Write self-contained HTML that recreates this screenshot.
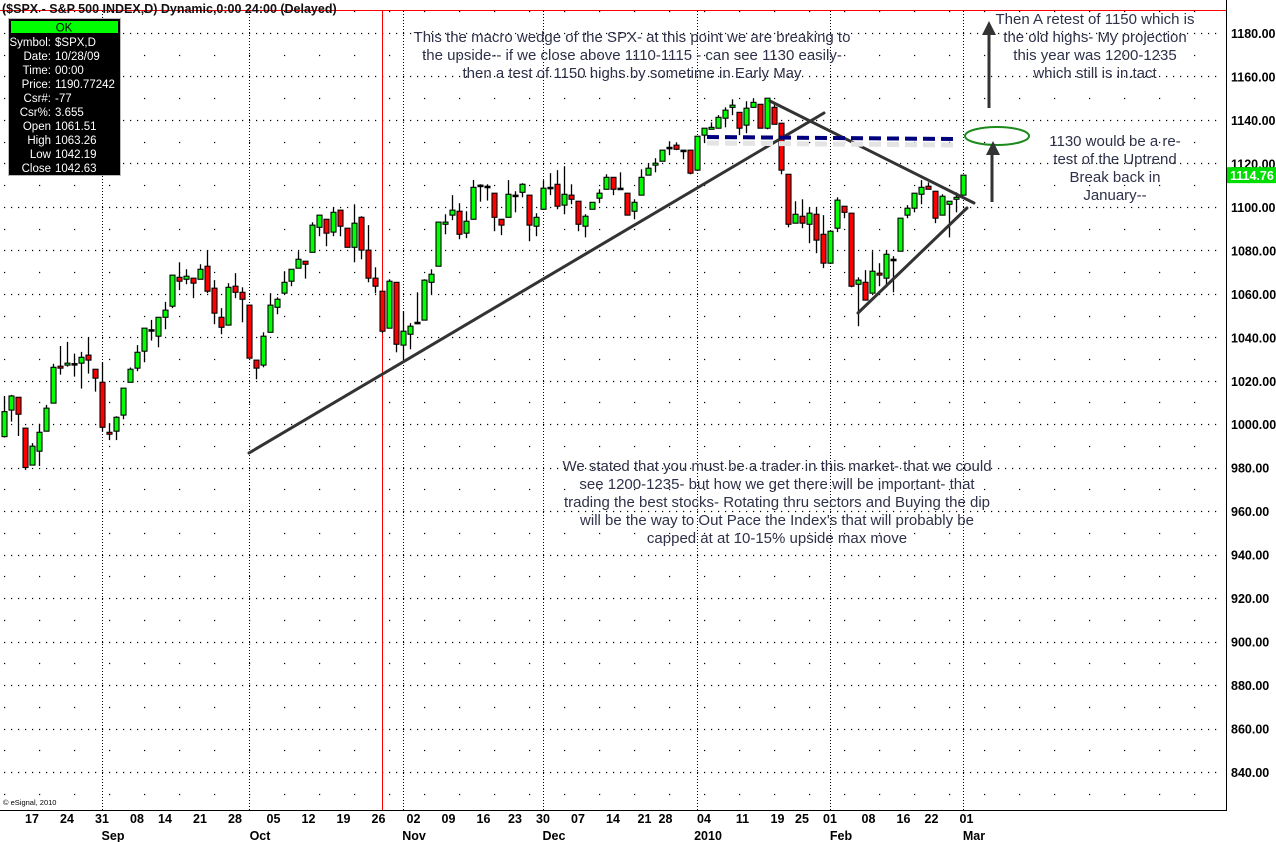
<!DOCTYPE html>
<html><head><meta charset="utf-8"><style>
html,body{margin:0;padding:0;background:#fff;}
svg{display:block;font-family:"Liberation Sans",Arial,sans-serif;}
.ann{font-size:15px;fill:#2e3148;}
.ax{font-size:12.5px;font-weight:bold;fill:#000;}
.info{font-size:11.5px;fill:#fff;}
</style></head><body>
<svg id="chart" width="1276" height="842" viewBox="0 0 1276 842" xmlns="http://www.w3.org/2000/svg">
<rect x="0" y="0" width="1276" height="842" fill="#fff"/>
<g id="grid"></g>
<g id="monthlines"></g>
<line x1="382.5" y1="10" x2="382.5" y2="810" stroke="#ff0000" stroke-width="1"/>
<line x1="0" y1="10.5" x2="1226" y2="10.5" stroke="#ff0000" stroke-width="1"/>
<text x="2" y="13" font-size="12.5" font-weight="bold" fill="#111">($SPX - S&amp;P 500 INDEX,D) Dynamic,0:00 24:00 (Delayed)</text>
<g id="candles"></g>
<g stroke="#333" stroke-width="3" stroke-linecap="round">
<line x1="249" y1="453" x2="824" y2="113"/>
<line x1="770" y1="101" x2="974" y2="203"/>
<line x1="858" y1="313" x2="967" y2="208"/>
</g>
<line x1="707" y1="143" x2="955" y2="145" stroke="#e4e4e4" stroke-width="5" stroke-dasharray="12,6"/>
<line x1="707" y1="137" x2="955" y2="139" stroke="#00007f" stroke-width="4" stroke-dasharray="12,6"/>
<ellipse cx="997" cy="136" rx="32" ry="9" fill="none" stroke="#1a8a1a" stroke-width="2"/>
<g fill="#333" stroke="#333">
<line x1="989" y1="108" x2="989" y2="32" stroke-width="3"/>
<polygon points="989,21 982,35 996,35" stroke="none"/>
<line x1="992" y1="202" x2="992" y2="152" stroke-width="3"/>
<polygon points="993,141 986,155 1000,155" stroke="none"/>
</g>
<g class="ann" text-anchor="middle">
<text x="632" y="42">This the macro wedge of the SPX- at this point we are breaking to</text>
<text x="632" y="60">the upside-- if we close above 1110-1115 - can see 1130 easily-</text>
<text x="632" y="78">then a test of 1150 highs by sometime in Early May</text>
</g>
<g class="ann" text-anchor="middle">
<text x="1095" y="24">Then A retest of 1150 which is</text>
<text x="1095" y="42">the old highs- My projection</text>
<text x="1095" y="60">this year was 1200-1235</text>
<text x="1095" y="78">which still is in.tact</text>
</g>
<g class="ann" text-anchor="middle">
<text x="1115" y="146">1130 would be a re-</text>
<text x="1115" y="164">test of the Uptrend</text>
<text x="1115" y="182">Break back in</text>
<text x="1115" y="200">January--</text>
</g>
<g class="ann" text-anchor="middle">
<text x="777" y="471">We stated that you must be a trader in this market- that we could</text>
<text x="777" y="489">see 1200-1235- but how we get there will be important-  that</text>
<text x="777" y="507">trading the best stocks-  Rotating thru sectors and Buying the dip</text>
<text x="777" y="525">will be the way to Out Pace the Index's that will probably be</text>
<text x="777" y="543">capped at at 10-15% upside max move</text>
</g>
<g>
<rect x="8.5" y="18.5" width="112" height="157" fill="#000" stroke="#bbb"/>
<rect x="11" y="21" width="107" height="12" fill="#00ff00"/>
<text x="64" y="31.5" font-size="11.5" fill="#000" text-anchor="middle">OK</text>
<g class="info" text-anchor="end">
<text x="51" y="46">Symbol:</text><text x="51" y="60">Date:</text><text x="51" y="74">Time:</text><text x="51" y="88">Price:</text><text x="51" y="102">Csr#:</text><text x="51" y="116">Csr%:</text><text x="51" y="130">Open</text><text x="51" y="144">High</text><text x="51" y="158">Low</text><text x="51" y="172">Close</text>
</g>
<g class="info">
<text x="55" y="46">$SPX,D</text><text x="55" y="60">10/28/09</text><text x="55" y="74">00:00</text><text x="55" y="88">1190.77242</text><text x="55" y="102">-77</text><text x="55" y="116">3.655</text><text x="55" y="130">1061.51</text><text x="55" y="144">1063.26</text><text x="55" y="158">1042.19</text><text x="55" y="172">1042.63</text>
</g>
</g>
<text x="3" y="805" font-size="7.5" fill="#000">© eSignal, 2010</text>
<line x1="0" y1="810.5" x2="1227" y2="810.5" stroke="#000"/>
<line x1="1226.5" y1="0" x2="1226.5" y2="811" stroke="#000"/>
<g id="yaxis"></g>
<g id="xaxis"></g>
<g>
<rect id="lastbg" x="1227" y="167" width="49" height="16" fill="#00dd00"/>
<text id="lasttx" x="1230" y="180" font-size="12.5" font-weight="bold" fill="#fff">1114.76</text>
</g>
</svg>
<script>
const opens=[994.3,1006.5,1012.4,998.2,981.2,987.6,996.8,1009.7,1026.7,1027.2,1027.9,1028.1,1031.8,1025.3,1019.3,996.3,996.8,1004.2,1019.3,1025.8,1033.6,1043.5,1040.5,1049.2,1054.3,1067.6,1066.7,1067.2,1066.7,1072.7,1062.6,1049.2,1045.6,1063.5,1060.7,1054.8,1029.5,1027.2,1042.3,1053.8,1060.3,1065.8,1071.8,1075,1079.1,1090.6,1094.3,1088.4,1098.5,1090.2,1081.4,1095.2,1080.1,1067.2,1061.2,1044.2,1065.3,1036.4,1041.4,1046.9,1047.9,1065.3,1072.7,1092,1096.2,1098,1087.9,1094.3,1110,1109.5,1106.3,1094.3,1095.2,1105.4,1106.7,1105.4,1091.1,1098.9,1109,1110.4,1100.8,1105.4,1102.6,1091.1,1098.9,1104,1108.1,1113.6,1108.6,1106.3,1098,1105.4,1114.6,1119.2,1121,1127.4,1128.4,1126.1,1126.1,1116.9,1133,1135.7,1136.2,1140.8,1145.8,1143.5,1137.6,1145.8,1147.2,1136.2,1145.8,1138.5,1115,1092.5,1095.7,1092,1096.6,1087.4,1074.1,1090.2,1100.3,1097.1,1064.4,1065.3,1060.3,1069.5,1067.2,1075.9,1079.6,1096.2,1099.4,1105.8,1109.5,1107.2,1096.2,1101.2,1103.5,1105.4];
const highs=[1013,1013.5,1012.4,998.2,991.3,1000.2,1008.9,1027.8,1036,1037.9,1032.5,1033.3,1040,1025.3,1028.5,1000.5,1003.7,1016.6,1026.1,1036.4,1044.2,1048,1049.2,1056.3,1068.6,1074.5,1071.3,1067.2,1073.6,1080.1,1066.3,1053.4,1064.9,1069.5,1063,1054.8,1029.5,1042.3,1060.3,1058.4,1070.4,1071.3,1079.6,1075,1092.9,1096.2,1094.3,1099.8,1098.5,1090.2,1101.2,1095.7,1091.6,1072.2,1061.2,1066.7,1065.3,1052,1046.5,1060.7,1066.7,1071.3,1093,1096.6,1105.4,1101.7,1098,1112.4,1110.4,1110.4,1106.3,1094.3,1112.3,1107.2,1110.9,1105.4,1097.1,1112.3,1115.5,1116.9,1118.7,1110.4,1102.6,1096.6,1102.1,1108.1,1115,1113.6,1115.9,1106.3,1103.5,1117.3,1120.1,1122.4,1126.1,1130.2,1129.7,1126.1,1126.1,1132.5,1136.2,1138.9,1142.2,1145.8,1149.5,1143.5,1148.6,1150,1147.2,1150,1147.7,1138.5,1115,1102.6,1103.5,1099.8,1099.8,1096.2,1088.8,1104.4,1100.3,1097.1,1067.6,1070.9,1079.6,1074.1,1080.1,1077.3,1094.8,1100.8,1106.3,1112.3,1111.3,1107.2,1105.8,1102.6,1106.7,1114.6];
const lows=[993.9,1001.2,994.6,979,981.2,980.8,996.8,1009.7,1022.8,1026.5,1021.9,1016.4,1023.3,1015,996.6,992.7,992.7,1002.3,1019.3,1024.4,1028.5,1038.5,1035.4,1043.7,1053.4,1061.7,1064.4,1058,1066.7,1060.3,1046,1041.4,1045.6,1058,1046.9,1030.4,1020.7,1026.2,1042.3,1050.6,1059.8,1063.5,1071.8,1067,1079.1,1086.5,1081.9,1086.5,1086.5,1081.4,1074.5,1075.9,1065.3,1060.3,1042,1044.2,1033.1,1029.5,1034.5,1046,1047.9,1059.8,1072.7,1087.4,1093.9,1085.1,1085.6,1094.3,1102.4,1102.9,1088.8,1087,1095.2,1097.5,1104.4,1084.2,1086.5,1098.9,1105.4,1098.9,1096.6,1101.2,1088.8,1086,1098.9,1101.7,1108.1,1105.4,1108.1,1096.2,1094.3,1105.4,1114.6,1115.9,1121,1123.8,1126.1,1121.9,1115,1116.9,1129.7,1135.7,1136.2,1136.6,1142.2,1133,1133.9,1145.8,1136.2,1135.7,1138,1115,1090.6,1092.5,1090.2,1083.3,1078.7,1071.8,1074.1,1088.4,1094.8,1063,1045.1,1057.1,1060.3,1063.5,1063,1060.7,1079.6,1094.8,1097.5,1101.2,1108.1,1092.5,1096.2,1086,1097.5,1105.4];
const closes=[1005.8,1013,1004.6,980.1,989.9,996.3,1007.4,1026.2,1025.8,1028.1,1027.9,1030.8,1029.5,1021.2,998.6,995.4,1003.2,1016.6,1025.3,1033.1,1044.2,1043.5,1049.2,1052.5,1068.6,1065.8,1068.1,1064.9,1071.3,1061.2,1051.1,1044.6,1063,1060.7,1057.5,1030.4,1025.8,1040.5,1054.8,1057.5,1065.3,1071.3,1075.9,1073.6,1091.6,1096.2,1087.9,1097.5,1091.1,1081.4,1092.5,1080.1,1067.2,1063.5,1042.8,1065.8,1036.8,1042.8,1045.1,1046.9,1066.3,1069,1093,1093,1098.5,1087.4,1093.4,1109,1110,1109.5,1095.2,1091.6,1105.8,1105.4,1110.4,1091.6,1095.2,1108.6,1109,1100.3,1105.8,1103.5,1092,1095.7,1102.1,1106.3,1113.6,1108.1,1108.6,1096.2,1102.1,1113.6,1117.8,1120.1,1126.1,1127.4,1126.5,1126.1,1115.5,1132.5,1136.2,1136.6,1141.2,1144.5,1146.8,1136.2,1145.4,1148.1,1136.2,1150,1138,1116.9,1092,1096.6,1092.5,1097.1,1084.7,1074.1,1088.8,1103.1,1097.5,1063.5,1066.3,1057.1,1070.4,1068.6,1078.2,1075.9,1094.8,1099.4,1106.3,1109,1108.1,1094.8,1104.9,1102.6,1104.4,1114.6];
const priceTicks=[1180,1160,1140,1120,1100,1080,1060,1040,1020,1000,980,960,940,920,900,880,860,840];
const dayLabels=["17","24","31","08","14","21","28","05","12","19","26","02","09","16","23","30","07","14","21","28","04","11","19","25","01","08","16","22","01"];
const dayLabelIdx=[4,9,14,19,23,28,33,38.5,43.5,48.5,53.5,58.5,63.5,68.5,73,77,82,87,91.5,94.5,100,105.5,110.5,114,118,123.5,128.5,132.5,137.5];
const monthLabels=["Sep","Oct","Nov","Dec","2010","Feb","Mar"];
const monthIdx=[14,35,57,77,99,118,137];

const NS="http://www.w3.org/2000/svg";
function yS(v){return 33+(1180-v)*2.1735;}
function xS(i){return 4+7*i;}
function mk(tag,attrs,parent){const e=document.createElementNS(NS,tag);for(const k in attrs)e.setAttribute(k,attrs[k]);parent.appendChild(e);return e;}

const grid=document.getElementById('grid');
for(let v=830;v<=1190;v+=10){
  const y=Math.round(yS(v))+0.5;
  const dense=(v%20===0);
  const line=mk('line',{x1:4,y1:y,x2:1222,y2:y,stroke:'#000','stroke-width':1.2,'stroke-dasharray':dense?'1.2,5.8':'1.2,33.8'},grid);
  
  
}
const ml=document.getElementById('monthlines');
monthIdx.forEach(function(i,k){
  const x=Math.round(xS(i))+0.5;
  const l=mk('line',{x1:x,y1:11,x2:x,y2:810,stroke:'#000','stroke-width':1,'stroke-dasharray':'1,2'},ml);
  
  
});

const cg=document.getElementById('candles');
for(let i=0;i<opens.length;i++){
  const o=opens[i],h=highs[i],l=lows[i],c=closes[i];
  const x=xS(i);
  const g=mk('g',{},cg);
  
  
  mk('line',{x1:x+0.5,y1:yS(h),x2:x+0.5,y2:yS(l),stroke:'#000','stroke-width':1.3},g);
  const top=yS(Math.max(o,c)),bot=yS(Math.min(o,c));
  const hh=Math.max(bot-top,1.5);
  const fill=c>o?'#00ff00':(c<o?'#ff0000':'#000');
  mk('rect',{x:x-2,y:top,width:5,height:hh,fill:fill,stroke:'#000','stroke-width':1.1},g);
}

const ya=document.getElementById('yaxis');
priceTicks.forEach(function(v){
  const t=mk('text',{x:1231,y:yS(v)+5,'class':'ax'},ya);
  t.textContent=v.toFixed(2);
  
  
});
const xa=document.getElementById('xaxis');
dayLabels.forEach(function(s,k){
  const t=mk('text',{x:xS(dayLabelIdx[k]),y:823,'class':'ax','text-anchor':'middle'},xa);
  t.textContent=s;
  
  
});
monthLabels.forEach(function(s,k){
  const t=mk('text',{x:xS(monthIdx[k])+11,y:840,'class':'ax','text-anchor':'middle'},xa);
  t.textContent=s;
  
  
});
const last=closes[closes.length-1];
document.getElementById('lastbg').setAttribute('y',yS(last)-8);
document.getElementById('lasttx').setAttribute('y',yS(last)+5);
</script>
</body></html>
